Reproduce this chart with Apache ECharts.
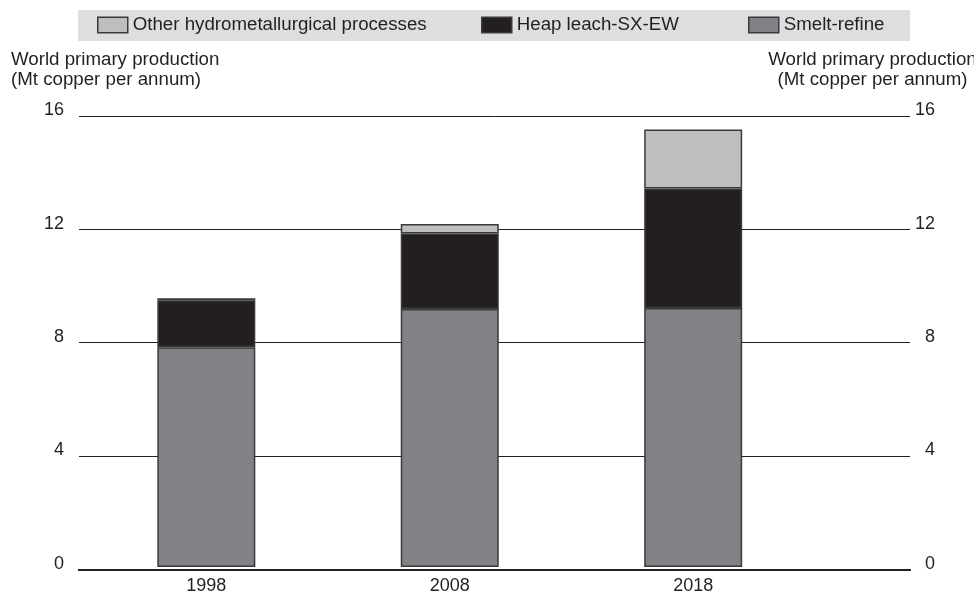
<!DOCTYPE html>
<html>
<head>
<meta charset="utf-8">
<script src="https://cdn.jsdelivr.net/npm/echarts@6/dist/echarts.min.js"></script>
<style>html,body{margin:0;padding:0;background:#fff;}#c{width:974px;height:595px;}</style>
</head>
<body>
<div id="c"></div>
<script>
const categories = ['1998', '2008', '2018'];
const smeltRefine = [7.80, 9.15, 9.19];
const heapLeach = [1.66, 2.68, 4.24];
const otherHydro = [0.07, 0.34, 2.09];
const yTicks = [0, 4, 8, 12, 16];
const seriesNames = ['Other hydrometallurgical processes', 'Heap leach-SX-EW', 'Smelt-refine'];
const axisTitle = 'World primary production\n(Mt copper per annum)';

const FONT = "'Liberation Sans', Arial, Helvetica, sans-serif";
const INK = '#231f20';
const COLORS = { other: '#bcbec0', heap: '#231f20', smelt: '#808285' };
const BORDER = '#3a3a3a';
const TXT = 18.7;
const NUM = 18;

const chart = echarts.init(document.getElementById('c'), null, { renderer: 'canvas' });

const gridTop = 116, gridBottom = 595 - 569.3;

function legendAt(name, left) {
  return {
    data: [name], left: left, top: 15.5, padding: 0, orient: 'horizontal',
    icon: 'rect', itemWidth: 30, itemHeight: 15.5, selectedMode: false,
    itemStyle: { borderColor: BORDER, borderWidth: 1.5 },
    textStyle: { fontFamily: FONT, fontSize: TXT, color: INK }
  };
}

const option = {
  animation: false,
  backgroundColor: '#ffffff',
  textStyle: { fontFamily: FONT },
  graphic: [
    { type: 'rect', left: 78, top: 10, z: -10, silent: true,
      shape: { width: 832, height: 31 }, style: { fill: '#dddee0' } },
    { type: 'text', x: 11, y: 50, silent: true,
      style: { text: axisTitle, font: TXT + 'px ' + FONT, fill: INK, lineHeight: 20, textAlign: 'left', textVerticalAlign: 'top' } },
    { type: 'text', x: 872.5, y: 50, silent: true,
      style: { text: axisTitle, font: TXT + 'px ' + FONT, fill: INK, lineHeight: 20, textAlign: 'center', textVerticalAlign: 'top' } }
  ],
  legend: [
    legendAt(seriesNames[0], 97),
    legendAt(seriesNames[1], 481),
    legendAt(seriesNames[2], 748)
  ],
  grid: [
    { left: 84.6, right: 974 - 814.9, top: gridTop, bottom: gridBottom },
    { left: 79, right: 64, top: gridTop, bottom: gridBottom }
  ],
  xAxis: [
    { type: 'category', gridIndex: 0, data: categories,
      axisLine: { show: false }, axisTick: { show: false },
      axisLabel: { margin: 10, fontSize: NUM, lineHeight: 18, color: INK, fontFamily: FONT } },
    { type: 'value', gridIndex: 1, min: 0, max: 1, position: 'bottom',
      axisLine: { show: true, lineStyle: { color: INK, width: 2 } },
      axisTick: { show: false }, axisLabel: { show: false }, splitLine: { show: false } },
    { type: 'value', gridIndex: 1, min: 0, max: 1, position: 'top',
      axisLine: { show: true, lineStyle: { color: INK, width: 2 } },
      axisTick: { show: false }, axisLabel: { show: false }, splitLine: { show: false } }
  ],
  yAxis: [
    { type: 'value', gridIndex: 0, min: 0, max: 16, interval: 4, show: false },
    { type: 'value', gridIndex: 1, min: 0, max: 16, interval: 4, position: 'left',
      axisLine: { show: false }, axisTick: { show: false },
      splitLine: { show: true, lineStyle: { color: INK, width: 1 } },
      axisLabel: { margin: 15, fontSize: NUM, color: INK, fontFamily: FONT, align: 'right',
        verticalAlign: 'bottom', lineHeight: 11,
        formatter: v => yTicks.includes(v) ? String(v) : '' } },
    { type: 'value', gridIndex: 1, min: 0, max: 16, interval: 4, position: 'right',
      axisLine: { show: false }, axisTick: { show: false }, splitLine: { show: false },
      axisLabel: { margin: 25, fontSize: NUM, color: INK, fontFamily: FONT, align: 'right',
        verticalAlign: 'bottom', lineHeight: 11,
        formatter: v => yTicks.includes(v) ? String(v) : '' } }
  ],
  series: [
    { name: seriesNames[2], type: 'bar', stack: 'prod', xAxisIndex: 0, yAxisIndex: 0,
      barWidth: 98, data: smeltRefine,
      itemStyle: { color: COLORS.smelt, borderColor: BORDER, borderWidth: 1.5 } },
    { name: seriesNames[1], type: 'bar', stack: 'prod', xAxisIndex: 0, yAxisIndex: 0,
      barWidth: 98, data: heapLeach,
      itemStyle: { color: COLORS.heap, borderColor: BORDER, borderWidth: 1.5 } },
    { name: seriesNames[0], type: 'bar', stack: 'prod', xAxisIndex: 0, yAxisIndex: 0,
      barWidth: 98, data: otherHydro,
      itemStyle: { color: COLORS.other, borderColor: BORDER, borderWidth: 1.5 } }
  ]
};

chart.setOption(option);
</script>
</body>
</html>
